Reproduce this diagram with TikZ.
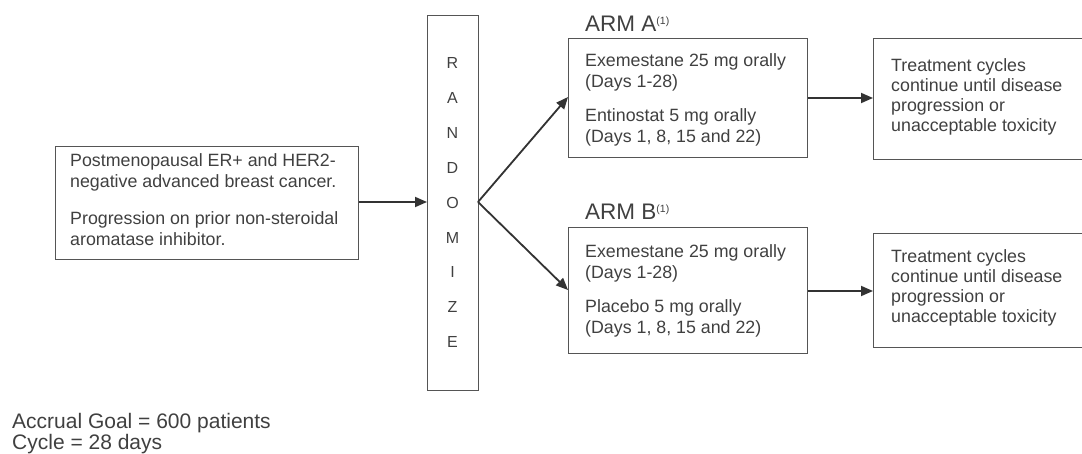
\documentclass[tikz,border=0pt]{standalone}
\usepackage{fontspec}
\setmainfont{Liberation Sans}
\usetikzlibrary{arrows.meta}
\definecolor{txtc}{HTML}{404040}
\definecolor{boxc}{HTML}{555555}
\definecolor{arrc}{HTML}{333333}
\begin{document}
\begin{tikzpicture}[x=1pt,y=-1pt,
  boxr/.style={draw=boxc,line width=1.4pt,fill=none},
  txt/.style={text=txtc,inner sep=0pt,anchor=base west,align=left,font=\fontsize{17.8}{21}\selectfont},
  txtr/.style={txt,font=\fontsize{17.8}{20}\selectfont},
  letter/.style={text=txtc,inner sep=0pt,font=\fontsize{16}{17}\selectfont},
  armlbl/.style={text=txtc,inner sep=0pt,anchor=base west,font=\fontsize{22.5}{24}\selectfont},
  conn/.style={draw=arrc,line width=1.8pt,-{Triangle[length=12pt,width=10pt]}}]
\useasboundingbox (0,0) rectangle (1082,454);
% boxes
\node[boxr,anchor=north west,minimum width=303pt,minimum height=113pt] (inc) at (55,146) {};
\node[boxr,anchor=north west,minimum width=51pt,minimum height=375pt] (rand) at (427,15) {};
\node[boxr,anchor=north west,minimum width=239pt,minimum height=119pt] (arma) at (568,38) {};
\node[boxr,anchor=north west,minimum width=239pt,minimum height=126pt] (armb) at (568,227) {};
\node[boxr,anchor=north west,minimum width=230pt,minimum height=121pt] (tra) at (873,38) {};
\node[boxr,anchor=north west,minimum width=230pt,minimum height=114pt] (trb) at (873,233) {};
% texts (anchored at the baseline of their last line)
\node[txt] (inct1) at (70,188) {Postmenopausal ER+ and HER2-\\negative advanced breast cancer.};
\node[txt] (inct2) at (70,246) {Progression on prior non-steroidal\\aromatase inhibitor.};
\node[txt] (arat1) at (585,88) {Exemestane 25 mg orally\\(Days 1-28)};
\node[txt] (arat2) at (585,143) {Entinostat 5 mg orally\\(Days 1, 8, 15 and 22)};
\node[txt] (arbt1) at (585,279) {Exemestane 25 mg orally\\(Days 1-28)};
\node[txt] (arbt2) at (585,334) {Placebo 5 mg orally\\(Days 1, 8, 15 and 22)};
\node[txtr] (trat) at (891,132) {Treatment cycles\\continue until disease\\progression or\\unacceptable toxicity};
\node[txtr] (trbt) at (891,323) {Treatment cycles\\continue until disease\\progression or\\unacceptable toxicity};
\node[armlbl] (alab) at (585,32) {ARM A\textsuperscript{\fontsize{10.5}{10}\selectfont(1)}};
\node[armlbl] (blab) at (585,220) {ARM B\textsuperscript{\fontsize{10.5}{10}\selectfont(1)}};
\foreach \l [count=\i from 0] in {R,A,N,D,O,M,I,Z,E}
  \node[letter] (l\i) at (452.5,63+34.9*\i) {\l};
\node[txt,font=\fontsize{21}{18.5}\selectfont] (goal) at (12,449) {Accrual Goal = 600 patients\\Cycle = 28 days};
% connectors
\coordinate (split) at (478,202);
\draw[conn] (inc.east |- 0,202) -- (rand.west |- 0,202);
\draw[conn] (split) -- (arma.west |- 0,97);
\draw[conn] (split) -- (armb.west |- 0,290);
\draw[conn] (arma.east |- 0,98) -- (tra.west |- 0,98);
\draw[conn] (armb.east |- 0,291) -- (trb.west |- 0,291);
\end{tikzpicture}
\end{document}
